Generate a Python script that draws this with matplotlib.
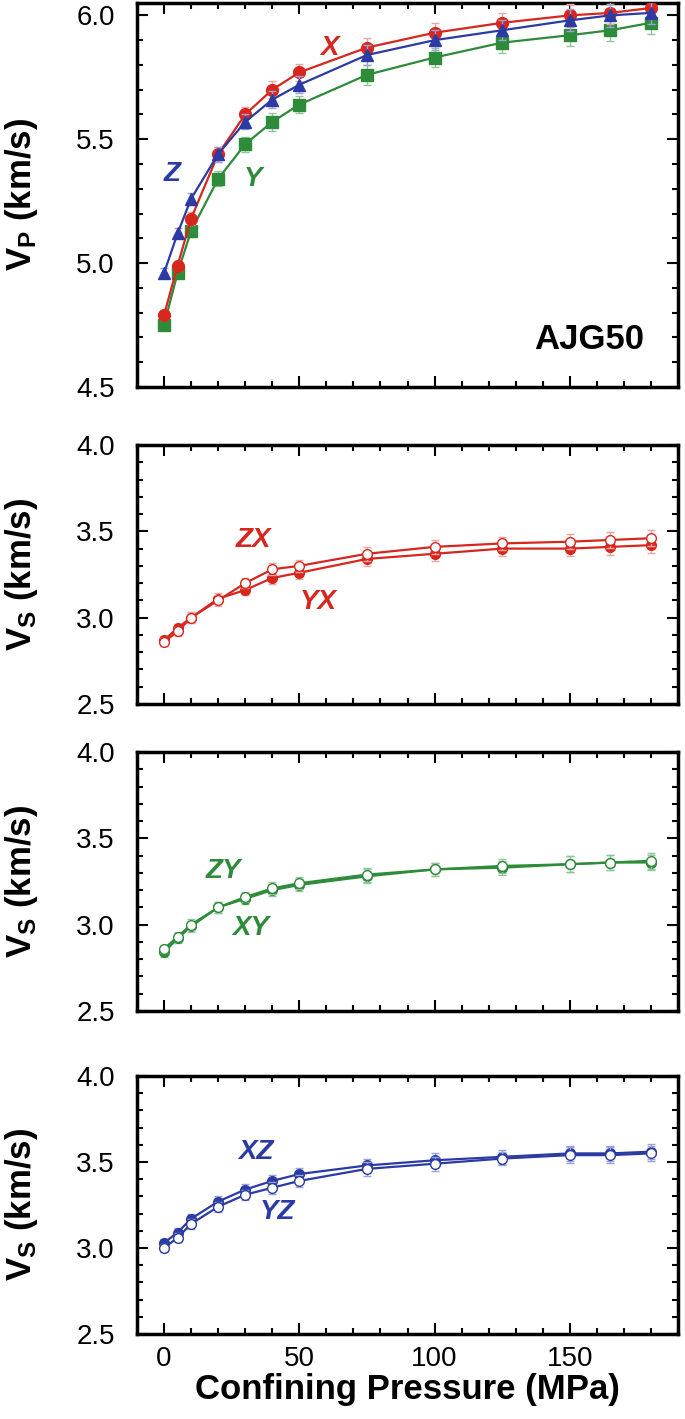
import matplotlib
matplotlib.use('Agg')
import matplotlib.pyplot as plt
from matplotlib.ticker import MultipleLocator

plt.rcParams['font.family'] = ['Liberation Sans', 'DejaVu Sans']
plt.rcParams['mathtext.fontset'] = 'custom'
plt.rcParams['mathtext.rm'] = 'Liberation Sans'
plt.rcParams['mathtext.it'] = 'Liberation Sans:italic'
plt.rcParams['mathtext.bf'] = 'Liberation Sans:bold'

# confining pressure (MPa)
pressure = [0, 5, 10, 20, 30, 40, 50, 75, 100, 125, 150, 165, 180]

# P-wave velocities (km/s)
vp_x = [4.79, 4.99, 5.18, 5.44, 5.60, 5.70, 5.77, 5.87, 5.93, 5.97, 6.00, 6.01, 6.03]
vp_z = [4.96, 5.12, 5.26, 5.44, 5.57, 5.66, 5.72, 5.84, 5.90, 5.94, 5.98, 6.00, 6.01]
vp_y = [4.75, 4.96, 5.13, 5.34, 5.48, 5.57, 5.64, 5.76, 5.83, 5.89, 5.92, 5.94, 5.97]
vp_err = [0.02, 0.02, 0.025, 0.03, 0.03, 0.035, 0.035, 0.04, 0.04, 0.04, 0.045, 0.045, 0.045]

# S-wave velocities (km/s)
vs_zx = [2.86, 2.92, 3.00, 3.10, 3.20, 3.28, 3.30, 3.37, 3.41, 3.43, 3.44, 3.45, 3.46]
vs_yx = [2.87, 2.94, 3.00, 3.11, 3.16, 3.23, 3.26, 3.34, 3.37, 3.40, 3.40, 3.41, 3.42]
vs_zy = [2.86, 2.93, 3.00, 3.10, 3.16, 3.21, 3.24, 3.29, 3.32, 3.34, 3.35, 3.36, 3.37]
vs_xy = [2.84, 2.92, 2.99, 3.10, 3.15, 3.20, 3.23, 3.28, 3.32, 3.33, 3.35, 3.36, 3.36]
vs_xz = [3.03, 3.09, 3.17, 3.27, 3.34, 3.39, 3.43, 3.48, 3.51, 3.53, 3.55, 3.55, 3.56]
vs_yz = [3.00, 3.06, 3.14, 3.24, 3.31, 3.35, 3.39, 3.46, 3.49, 3.52, 3.54, 3.54, 3.55]
vs_err = [0.025, 0.025, 0.03, 0.03, 0.03, 0.035, 0.035, 0.04, 0.04, 0.04, 0.045, 0.045, 0.045]

red, red_l = '#d7261e', '#eea59f'
green, green_l = '#2e8b3a', '#93c49a'
blue, blue_l = '#2b3ba3', '#9aa3d8'

W, H = 685, 1419
fig = plt.figure(figsize=(W / 100, H / 100), dpi=100)


def px_axes(top, bottom, left=137, right=678):
    return fig.add_axes([left / W, 1 - bottom / H, (right - left) / W, (bottom - top) / H])


def style(ax, ylim, xlabels=False):
    ax.set_xlim(-10, 190)
    ax.set_ylim(*ylim)
    ax.xaxis.set_major_locator(MultipleLocator(50))
    ax.xaxis.set_minor_locator(MultipleLocator(10))
    ax.yaxis.set_major_locator(MultipleLocator(0.5))
    ax.yaxis.set_minor_locator(MultipleLocator(0.1))
    ax.yaxis.set_major_formatter(plt.FormatStrFormatter('%.1f'))
    ax.tick_params(which='both', direction='in', top=True, right=True,
                   width=1.5, labelsize=20, colors='black')
    ax.tick_params(which='major', length=8)
    ax.tick_params(which='minor', length=4.5)
    ax.tick_params(axis='y', pad=16)
    ax.tick_params(axis='x', pad=9, labelbottom=xlabels)
    for s in ax.spines.values():
        s.set_linewidth(2.5)


def series(ax, y, err, color, light, marker, ms, filled=True, z=2):
    ax.errorbar(pressure, y, yerr=err, fmt='none',
                ecolor=light, elinewidth=1, capsize=3, capthick=1, zorder=z)
    ax.plot(pressure, y, color=color, lw=1.6, marker=marker, ms=ms,
            mfc=color if filled else 'white', mec=color, mew=1.0, zorder=z + 1)


# --- Vp panel
ax1 = px_axes(3, 387)
series(ax1, vp_y, vp_err, green, green_l, 's', 8.5, z=2)
series(ax1, vp_x, vp_err, red, red_l, 'o', 8.5, z=4)
series(ax1, vp_z, vp_err, blue, blue_l, '^', 8.5, z=6)
style(ax1, (4.5, 6.05))
for txt, x, y, c in [('X', 61, 5.87, red), ('Z', 3, 5.36, blue), ('Y', 33, 5.34, green)]:
    ax1.text(x, y, txt, color=c, fontsize=20, fontweight='bold', style='italic',
             ha='center', va='center')
ax1.text(0.835, 0.123, 'AJG50', transform=ax1.transAxes, fontsize=25,
         fontweight='bold', ha='center', va='center')
ax1.set_ylabel(r'$\mathbf{V_P}$ (km/s)', fontsize=25, fontweight='bold')
ax1.yaxis.set_label_coords(-0.18, 0.5)

# --- Vs panels
panels = [
    ((445, 704), vs_yx, vs_zx, red, red_l,
     [('ZX', 33, 3.45), ('YX', 57, 3.09)]),
    ((752, 1011), vs_xy, vs_zy, green, green_l,
     [('ZY', 22, 3.31), ('XY', 32, 2.98)]),
    ((1076, 1334), vs_xz, vs_yz, blue, blue_l,
     [('XZ', 34, 3.56), ('YZ', 42, 3.21)]),
]
for i, ((top, bot), filled_y, open_y, c, cl, labels) in enumerate(panels):
    ax = px_axes(top, bot)
    series(ax, filled_y, vs_err, c, cl, 'o', 7, filled=True, z=2)
    series(ax, open_y, vs_err, c, cl, 'o', 7, filled=False, z=4)
    style(ax, (2.5, 4.0), xlabels=(i == 2))
    for txt, x, y in labels:
        ax.text(x, y, txt, color=c, fontsize=20, fontweight='bold', style='italic',
                ha='center', va='center')
    ax.set_ylabel(r'$\mathbf{V_S}$ (km/s)', fontsize=25, fontweight='bold')
    ax.yaxis.set_label_coords(-0.18, 0.5)
    if i == 2:
        ax.set_xlabel('Confining Pressure (MPa)', fontsize=25, fontweight='bold',
                      labelpad=0)

fig.savefig('out.png', dpi=100)
